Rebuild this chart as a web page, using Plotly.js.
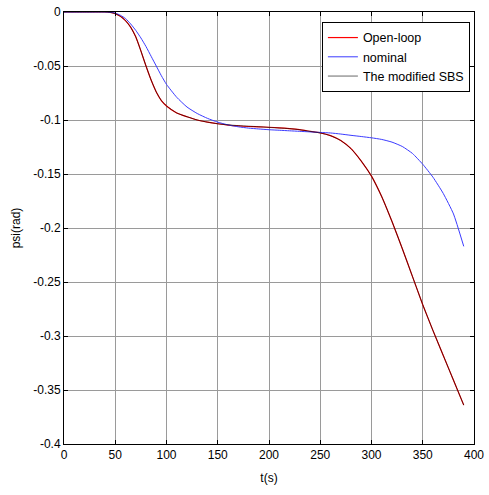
<!DOCTYPE html>
<html>
<head>
<meta charset="utf-8">
<script src="https://cdn.plot.ly/plotly-3.0.1.min.js"></script>
<style>html,body{margin:0;padding:0;background:#fff;}#chart{width:489px;height:495px;}</style>
</head>
<body>
<div id="chart"></div>
<script>
// time (s)
var tOpen = [0,10,20,30,40,45,50,55,60,65,70,75,80,85,90,95,100,110,120,130,140,150,160,170,180,190,200,210,220,230,240,250,260,270,280,290,300,310,320,330,340,350,360,370,380,390];
var psiOpen = [0,0,0,0,0,-0.0003,-0.0015,-0.004,-0.008,-0.014,-0.023,-0.036,-0.05,-0.063,-0.074,-0.082,-0.087,-0.0935,-0.097,-0.1,-0.102,-0.1035,-0.1047,-0.1055,-0.106,-0.1063,-0.1067,-0.1072,-0.108,-0.109,-0.1105,-0.112,-0.1145,-0.119,-0.1265,-0.138,-0.152,-0.171,-0.194,-0.219,-0.245,-0.271,-0.295,-0.318,-0.341,-0.364];
var tNom = [0,10,20,30,40,45,50,55,60,65,70,75,80,85,90,95,100,110,120,130,140,150,160,170,180,190,200,210,220,230,240,250,260,270,280,290,300,310,320,330,340,350,360,370,380,390];
var psiNom = [0,0,0,0,0,-0.0003,-0.001,-0.003,-0.006,-0.011,-0.017,-0.024,-0.032,-0.041,-0.05,-0.059,-0.067,-0.079,-0.088,-0.094,-0.0985,-0.102,-0.1045,-0.1063,-0.1075,-0.1083,-0.109,-0.1095,-0.11,-0.1105,-0.111,-0.1115,-0.112,-0.113,-0.1142,-0.1153,-0.1165,-0.118,-0.1205,-0.1245,-0.131,-0.141,-0.153,-0.168,-0.187,-0.217];
var tSBS = [0,10,20,30,40,45,50,55,60,65,70,75,80,85,90,95,100,110,120,130,140,150,160,170,180,190,200,210,220,230,240,250,260,270,280,290,300,310,320,330,340,350,360,370,380,390];
var psiSBS = [0,0,0,0,0,-0.0003,-0.0015,-0.004,-0.008,-0.014,-0.023,-0.036,-0.05,-0.063,-0.074,-0.082,-0.087,-0.0935,-0.097,-0.1,-0.102,-0.1035,-0.1045,-0.1052,-0.1057,-0.1062,-0.1069,-0.1074,-0.108,-0.109,-0.1105,-0.112,-0.1145,-0.119,-0.1265,-0.138,-0.152,-0.171,-0.194,-0.219,-0.245,-0.271,-0.295,-0.318,-0.341,-0.364];
var seriesNames = ['Open-loop','nominal','The modified SBS'];
var xTickVals = [0,50,100,150,200,250,300,350,400];
var xTickText = ['0','50','100','150','200','250','300','350','400'];
var yTickVals = [0,-0.05,-0.1,-0.15,-0.2,-0.25,-0.3,-0.35,-0.4];
var yTickText = ['0','-0.05','-0.1','-0.15','-0.2','-0.25','-0.3','-0.35','-0.4'];

var traces = [
  {x: tOpen, y: psiOpen, name: seriesNames[0], mode: 'lines', line: {color: '#ff0000', width: 1.2, shape: 'spline', smoothing: 0.5}},
  {x: tNom, y: psiNom, name: seriesNames[1], mode: 'lines', line: {color: '#3b3bff', width: 1, shape: 'spline', smoothing: 0.5}},
  {x: tSBS, y: psiSBS, name: seriesNames[2], mode: 'lines', line: {color: '#000000', width: 0.6, shape: 'spline', smoothing: 0.5}}
];

var font = {family: 'Liberation Sans, Arial, sans-serif', size: 12, color: '#000'};
var legendFont = {family: 'Liberation Sans, Arial, sans-serif', size: 12.5, color: '#000'};
var layout = {
  width: 489, height: 495,
  margin: {l: 64, r: 15, t: 12, b: 51},
  paper_bgcolor: '#fff', plot_bgcolor: '#fff',
  font: font,
  showlegend: true,
  legend: {x: 0.99, y: 0.977, xanchor: 'right', yanchor: 'top', bgcolor: '#fff', bordercolor: '#000', borderwidth: 1, font: legendFont, tracegroupgap: 0},
  xaxis: {
    range: [0, 400], tickvals: xTickVals, ticktext: xTickText,
    showgrid: true, gridcolor: '#9a9a9a', gridwidth: 1,
    zeroline: false, showline: true, linecolor: '#000', linewidth: 1, mirror: 'ticks',
    ticks: 'inside', ticklen: 4, tickcolor: '#000',
    title: {text: 't(s)', font: font, standoff: 12}
  },
  yaxis: {
    range: [-0.4, 0], tickvals: yTickVals, ticktext: yTickText,
    showgrid: true, gridcolor: '#9a9a9a', gridwidth: 1,
    zeroline: false, showline: true, linecolor: '#000', linewidth: 1, mirror: 'ticks',
    ticks: 'inside', ticklen: 4, tickcolor: '#000',
    title: {text: 'psi(rad)', font: font, standoff: 10}
  }
};
Plotly.newPlot('chart', traces, layout, {displayModeBar: false, staticPlot: true});
</script>
</body>
</html>
